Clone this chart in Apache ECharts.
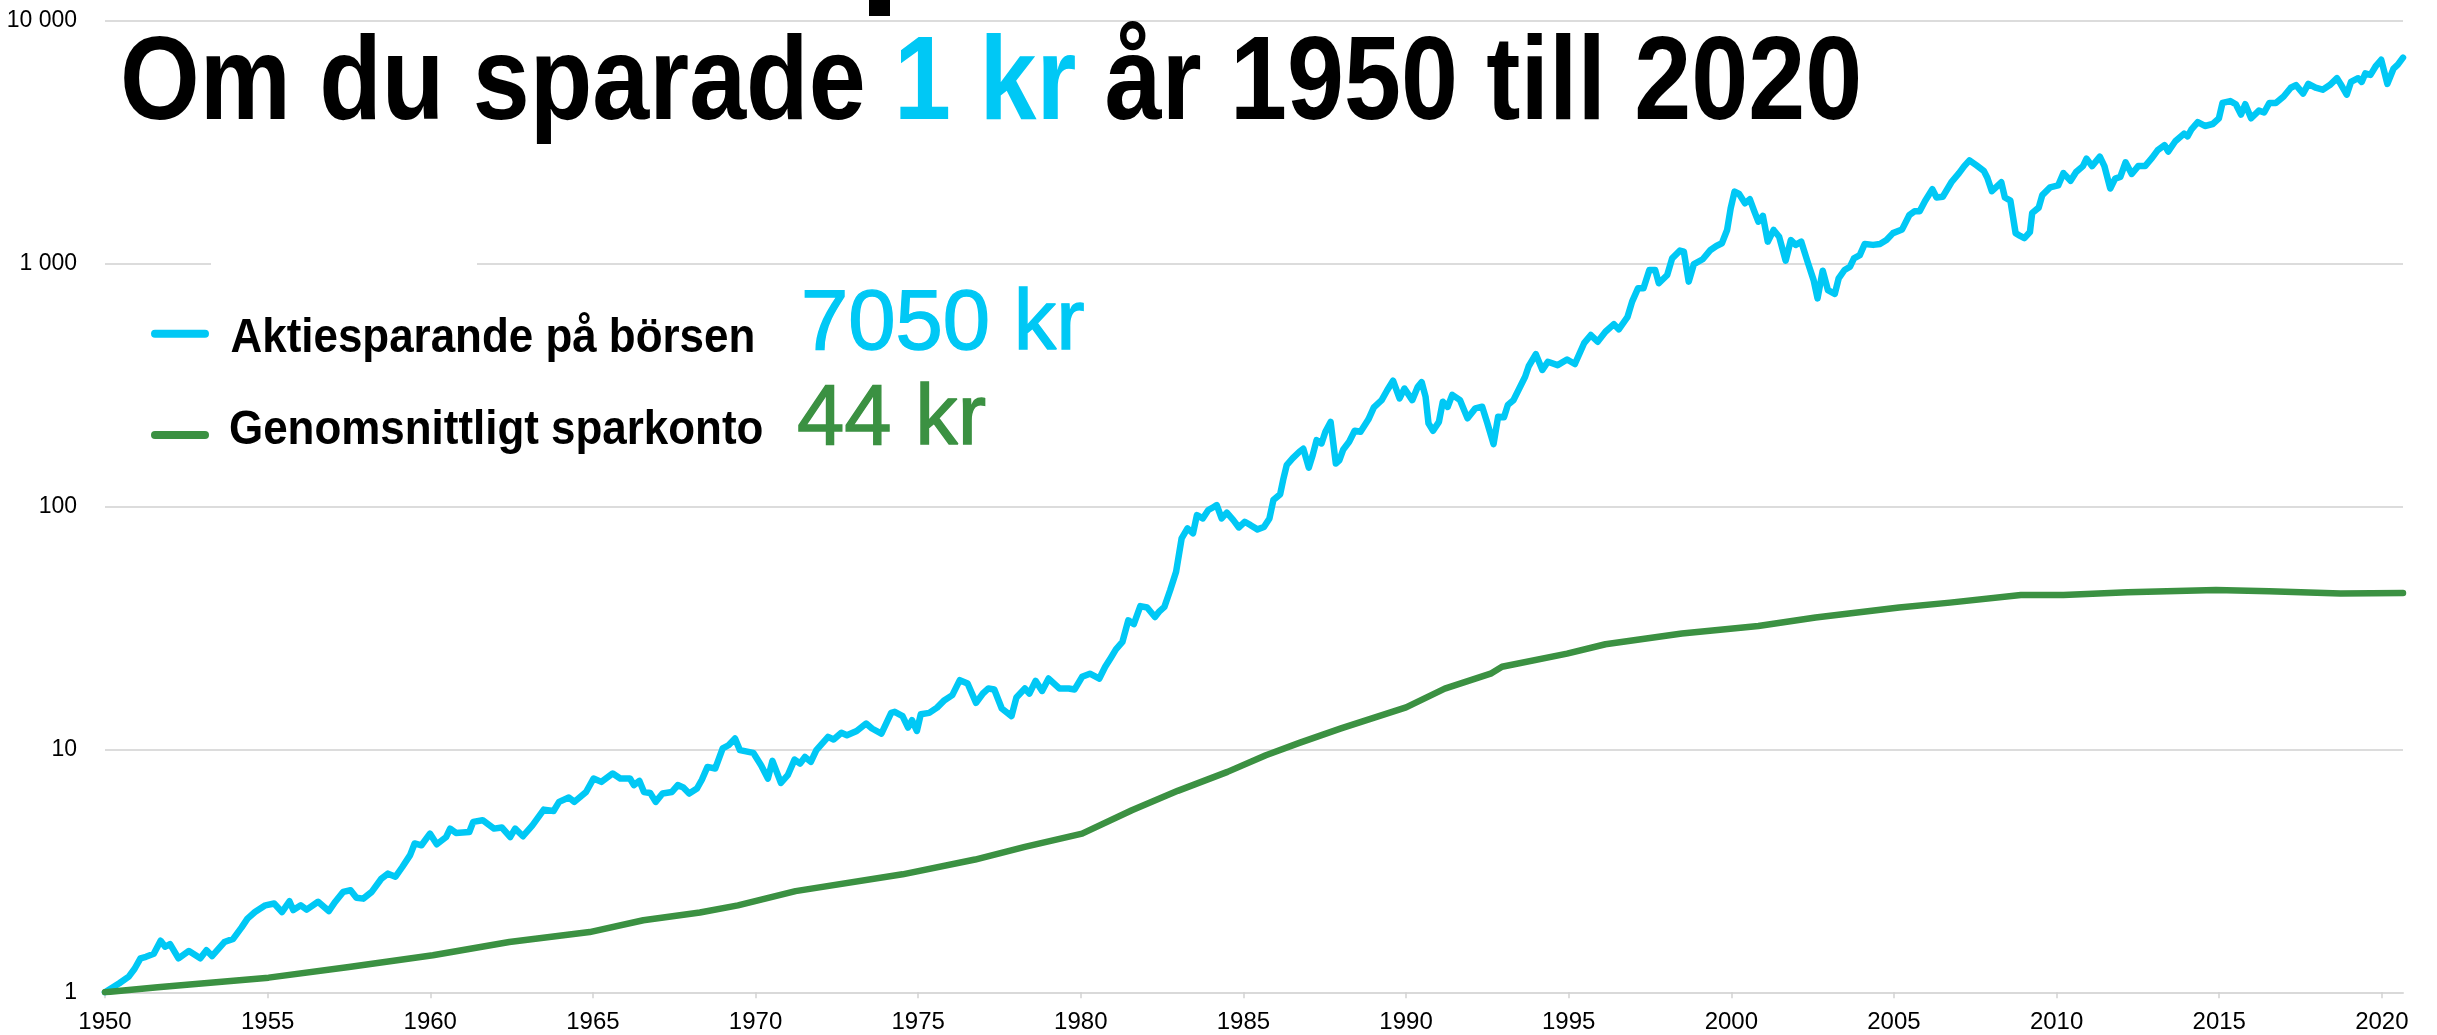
<!DOCTYPE html>
<html>
<head>
<meta charset="utf-8">
<script src="https://cdn.jsdelivr.net/npm/echarts@6/dist/echarts.min.js"></script>
<style>
html,body{margin:0;padding:0;background:#ffffff;}
#chart{width:2437px;height:1035px;}
</style>
</head>
<body>
<div id="chart"></div>
<script>
// ---- Data ----
const stockYears = [
1950.00,1950.44,1950.73,1950.91,1951.09,1951.26,1951.50,1951.71,1951.85,1952.00,
1952.26,1952.58,1952.93,1953.12,1953.29,1953.67,1953.94,1954.20,1954.38,1954.61,
1954.93,1955.20,1955.44,1955.67,1955.79,1956.02,1956.20,1956.55,1956.88,1957.08,
1957.32,1957.55,1957.73,1957.94,1958.20,1958.50,1958.70,1958.93,1959.14,1959.38,
1959.52,1959.73,1959.99,1960.20,1960.49,1960.61,1960.79,1961.20,1961.32,1961.61,
1961.96,1962.20,1962.46,1962.61,1962.85,1963.14,1963.49,1963.79,1963.96,1964.26,
1964.43,1964.79,1965.02,1965.26,1965.61,1965.84,1966.14,1966.26,1966.43,1966.57,
1966.76,1966.93,1967.14,1967.43,1967.61,1967.78,1967.96,1968.20,1968.35,1968.52,
1968.76,1968.99,1969.17,1969.37,1969.52,1969.93,1970.17,1970.38,1970.52,1970.78,
1970.99,1971.20,1971.37,1971.52,1971.70,1971.87,1972.23,1972.40,1972.64,1972.81,
1973.11,1973.40,1973.58,1973.87,1974.17,1974.28,1974.52,1974.69,1974.81,1974.96,
1975.08,1975.34,1975.58,1975.81,1976.05,1976.28,1976.52,1976.78,1976.99,1977.16,
1977.34,1977.57,1977.87,1978.02,1978.28,1978.42,1978.61,1978.81,1979.01,1979.34,
1979.63,1979.81,1980.04,1980.28,1980.57,1980.75,1980.93,1981.08,1981.28,1981.46,
1981.63,1981.83,1982.04,1982.28,1982.40,1982.57,1982.75,1982.93,1983.10,1983.28,
1983.45,1983.57,1983.75,1983.92,1984.06,1984.18,1984.33,1984.49,1984.69,1984.86,
1985.04,1985.22,1985.43,1985.63,1985.80,1985.92,1986.13,1986.22,1986.33,1986.51,
1986.72,1986.84,1987.01,1987.13,1987.25,1987.40,1987.52,1987.68,1987.84,1987.95,
1988.07,1988.25,1988.42,1988.60,1988.84,1989.01,1989.25,1989.42,1989.60,1989.80,
1989.95,1990.19,1990.36,1990.48,1990.60,1990.69,1990.83,1991.01,1991.13,1991.28,
1991.42,1991.66,1991.89,1992.13,1992.34,1992.50,1992.69,1992.83,1993.01,1993.13,
1993.30,1993.48,1993.66,1993.77,1993.99,1994.19,1994.36,1994.66,1994.95,1995.19,
1995.48,1995.68,1995.89,1996.13,1996.39,1996.54,1996.81,1996.95,1997.13,1997.30,
1997.48,1997.66,1997.77,1998.03,1998.18,1998.42,1998.54,1998.69,1998.85,1999.12,
1999.36,1999.54,1999.71,1999.87,1999.98,2000.10,2000.24,2000.42,2000.57,2000.71,
2000.83,2000.97,2001.12,2001.30,2001.47,2001.67,2001.83,2001.98,2002.15,2002.36,
2002.53,2002.65,2002.81,2002.97,2003.18,2003.30,2003.48,2003.65,2003.77,2003.95,
2004.10,2004.36,2004.57,2004.77,2004.97,2005.25,2005.47,2005.63,2005.79,2005.96,
2006.18,2006.31,2006.50,2006.78,2007.00,2007.16,2007.32,2007.54,2007.76,2007.87,
2008.01,2008.20,2008.30,2008.41,2008.58,2008.74,2008.88,2009.01,2009.18,2009.25,
2009.45,2009.56,2009.80,2010.05,2010.21,2010.43,2010.60,2010.81,2010.92,2011.09,
2011.33,2011.47,2011.65,2011.80,2011.96,2012.12,2012.31,2012.51,2012.72,2012.94,
2013.11,2013.32,2013.43,2013.65,2013.92,2014.03,2014.14,2014.34,2014.56,2014.80,
2014.99,2015.10,2015.34,2015.51,2015.67,2015.80,2015.98,2016.22,2016.38,2016.54,
2016.74,2016.98,2017.20,2017.36,2017.58,2017.74,2017.96,2018.18,2018.40,2018.62,
2018.73,2018.92,2019.05,2019.27,2019.38,2019.49,2019.65,2019.82,2019.98,2020.17,
2020.36,2020.49,2020.65
];
const stockValues = [
1.00,1.09,1.16,1.25,1.38,1.40,1.44,1.63,1.54,1.58,
1.38,1.48,1.38,1.49,1.41,1.61,1.66,1.85,2.01,2.14,
2.28,2.32,2.14,2.37,2.18,2.28,2.19,2.36,2.16,2.36,
2.59,2.63,2.45,2.43,2.59,2.94,3.08,2.99,3.28,3.67,
4.10,4.03,4.50,4.07,4.36,4.72,4.53,4.57,5.03,5.11,
4.72,4.77,4.36,4.72,4.39,4.87,5.65,5.58,6.08,6.34,
6.08,6.68,7.59,7.35,7.96,7.59,7.59,7.13,7.42,6.68,
6.62,6.08,6.58,6.68,7.13,6.97,6.58,6.90,7.50,8.47,
8.34,10.09,10.4,11.09,9.93,9.68,8.61,7.59,8.97,7.28,
7.83,9.08,8.75,9.31,8.89,9.93,11.26,10.98,11.70,11.43,
11.91,12.78,12.19,11.62,14.14,14.28,13.71,12.30,13.19,11.91,
13.96,14.14,14.86,15.95,16.73,19.28,18.67,15.55,16.99,17.82,
17.65,14.73,13.71,16.36,17.82,16.99,19.15,17.41,19.58,17.82,
17.82,17.65,19.90,20.50,19.58,21.88,23.90,25.80,27.70,34.00,
32.80,38.90,38.40,35.10,36.80,38.60,45.30,53.90,73.90,81.30,
77.50,92.20,89.30,96.70,99.10,101.3,89.3,94.3,87.9,82.0,
86.5,83.8,80.5,82.4,89.3,106.3,112.4,128.5,148.0,157.7,
168,173,144.5,163,187.6,181.8,203,223,150.4,155,
171.8,184.8,205,203,228,256,274,301,329.5,278.6,
306,274,311,325,283,220,205,223,270,257,
288,274,230.6,253.5,257.6,220,180.7,234,233,262,
274,306,342,378,424,365,394.6,382,403,386,
472,508,477,524,563,536,604,697,791,791,
941,941,830,898,1051,1131,1120,843,996,1042,
1138,1182,1213,1375,1689,1979,1935,1772,1840,1637,
1489,1572,1231,1375,1290,1028,1250,1194,1231,1002,
855,719,935,778,750,869,941,971,1051,1084,
1205,1194,1205,1250,1335,1383,1582,1641,1641,1816,
2025,1871,1884,2177,2358,2520,2660,2535,2410,2258,
1987,2099,2161,1871,1816,1335,1300,1273,1349,1616,
1700,1915,2060,2099,2358,2193,2382,2520,2705,2520,
2755,2520,2037,2239,2275,2612,2339,2520,2520,2729,
2933,3076,2893,3190,3429,3342,3557,3821,3686,3756,
3966,4586,4668,4531,4110,4531,3966,4265,4188,4586,
4586,4875,5297,5432,5012,5495,5297,5200,5432,5798,
5495,4963,5597,5798,5597,6068,5984,6522,6906,5495,
6353,6594,7050
];
const savingsYears = [
1950.00,1951.62,1955.03,1957.50,1960.08,1962.43,1964.90,1966.55,1968.29,1969.46,
1971.23,1974.52,1976.75,1978.28,1980.04,1981.57,1982.98,1984.51,1985.69,1986.72,
1988.00,1990.00,1991.19,1992.60,1992.95,1994.95,1996.13,1998.48,2000.83,2002.59,
2005.16,2006.72,2008.90,2010.21,2012.18,2014.90,2016.54,2018.73,2020.65
];
const savingsValues = [
1.00,1.05,1.149,1.27,1.42,1.61,1.77,1.98,2.13,2.28,
2.61,3.06,3.52,3.97,4.50,5.62,6.75,8.08,9.46,10.64,
12.2,14.9,17.8,20.5,21.9,24.8,27.1,30.0,32.2,34.9,
38.4,40.2,43.2,43.2,44.4,45.3,44.8,43.8,44.0
];
const tickYears = [1950,1955,1960,1965,1970,1975,1980,1985,1990,1995,2000,2005,2010,2015,2020];
const seriesNames = ['Aktiesparande på börsen', 'Genomsnittligt sparkonto'];
const finalLabels = ['7050 kr', '44 kr'];
const titleParts = ['Om du sparade ', '1 kr', ' år 1950 till 2020'];

// ---- Styling ----
const CYAN = '#00c8f5';
const GREEN = '#3b9142';
const FONT = '"Liberation Sans", Arial, Helvetica, sans-serif';

function thousands(v) {
  return String(Math.round(v)).replace(/\B(?=(\d{3})+(?!\d))/g, ' ');
}

const chart = echarts.init(document.getElementById('chart'), null, {renderer: 'canvas', width: 2437, height: 1035});

const option = {
  animation: false,
  backgroundColor: '#ffffff',
  grid: {left: 105, right: 34, top: 20.7, bottom: 42.7, containLabel: false},
  xAxis: {
    type: 'value', min: 1950, max: 2020.65, interval: 5,
    axisLine: {show: true, lineStyle: {color: '#d9d9d9', width: 2}},
    axisTick: {show: true, customValues: tickYears, length: 6, lineStyle: {color: '#d2d2d2', width: 1.5}},
    axisLabel: {customValues: tickYears, margin: 18, fontSize: 24, lineHeight: 24, color: '#000', fontFamily: FONT,
      formatter: v => String(Math.round(v))},
    splitLine: {show: false}
  },
  yAxis: {
    type: 'log', logBase: 10, min: 1, max: 10000,
    axisLine: {show: false}, axisTick: {show: false},
    axisLabel: {margin: 28, fontSize: 23, color: '#000', fontFamily: FONT, formatter: thousands},
    splitLine: {show: true, lineStyle: {color: '#dcdcdc', width: 2}}
  },
  series: [
    {
      name: seriesNames[0], type: 'line', showSymbol: false, symbol: 'none',
      data: stockYears.map((y, i) => [y, stockValues[i]]),
      lineStyle: {color: CYAN, width: 6.5, cap: 'round', join: 'round'},
      itemStyle: {color: CYAN}, z: 3
    },
    {
      name: seriesNames[1], type: 'line', showSymbol: false, symbol: 'none',
      data: savingsYears.map((y, i) => [y, savingsValues[i]]),
      lineStyle: {color: GREEN, width: 6.5, cap: 'round', join: 'round'},
      itemStyle: {color: GREEN}, z: 4
    }
  ],
  graphic: [
    {type: 'rect', z: 1, shape: {x: 211, y: 261, width: 266, height: 5}, style: {fill: '#ffffff'}},
    {type: 'rect', z: 10, shape: {x: 869, y: 0, width: 21, height: 16}, style: {fill: '#000000'}},
    {
      type: 'text', z: 10, x: 120, y: 86.8, scaleX: 0.868,
      style: {
        text: '{a|' + titleParts[0] + '}{b|' + titleParts[1] + '}{a|' + titleParts[2] + '}',
        verticalAlign: 'middle', align: 'left',
        rich: {
          a: {fill: '#000000', fontSize: 118, fontWeight: 'bold', fontFamily: FONT, lineHeight: 130},
          b: {fill: CYAN, fontSize: 118, fontWeight: 'bold', fontFamily: FONT, lineHeight: 130}
        }
      }
    },
    {type: 'line', z: 10, shape: {x1: 155, y1: 333.7, x2: 205, y2: 333.7}, style: {stroke: CYAN, lineWidth: 8, lineCap: 'round'}},
    {type: 'line', z: 10, shape: {x1: 155, y1: 435, x2: 205, y2: 435}, style: {stroke: GREEN, lineWidth: 8, lineCap: 'round'}},
    {
      type: 'text', z: 10, x: 230.5, y: 338.9, scaleX: 0.915,
      style: {text: seriesNames[0], fontSize: 48, fontWeight: 'bold', fontFamily: FONT, fill: '#000000', verticalAlign: 'middle', align: 'left'}
    },
    {
      type: 'text', z: 10, x: 229, y: 430.4, scaleX: 0.915,
      style: {text: seriesNames[1], fontSize: 48, fontWeight: 'bold', fontFamily: FONT, fill: '#000000', verticalAlign: 'middle', align: 'left'}
    },
    {
      type: 'text', z: 10, x: 801, y: 325.5,
      style: {text: finalLabels[0], fontSize: 85, fontWeight: 'normal', fontFamily: FONT, fill: CYAN,
        stroke: CYAN, lineWidth: 1.4, verticalAlign: 'middle', align: 'left'}
    },
    {
      type: 'text', z: 10, x: 797, y: 420.5,
      style: {text: finalLabels[1], fontSize: 85, fontWeight: 'normal', fontFamily: FONT, fill: GREEN,
        stroke: GREEN, lineWidth: 1.4, verticalAlign: 'middle', align: 'left'}
    }
  ]
};
chart.setOption(option);
</script>
</body>
</html>
